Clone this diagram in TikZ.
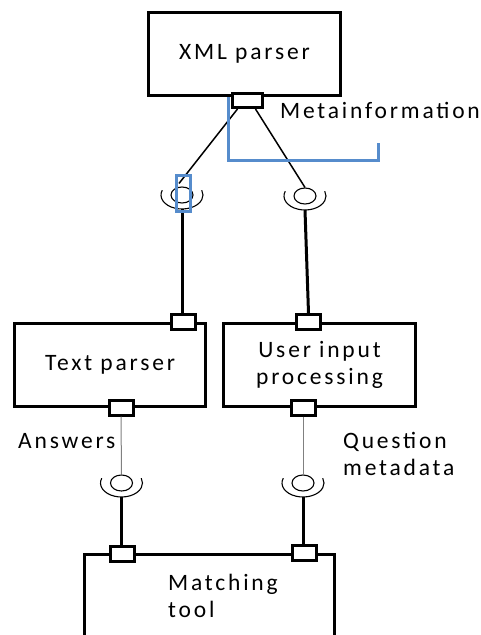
\documentclass[tikz,border=0pt]{standalone}
\usepackage{fontspec}
\setmainfont{Carlito}[LetterSpace=12]
\usetikzlibrary{shapes.geometric,calc}
\definecolor{selblue}{RGB}{86,140,204}
\tikzset{
  comp/.style={draw, line width=3pt, inner sep=0pt, align=center,
    font=\fontsize{23.5}{27}\selectfont},
  portbig/.style={draw, fill=white, line width=3pt, inner sep=0pt,
    minimum width=30pt, minimum height=14pt},
  portbox/.style={draw, fill=white, line width=3pt, inner sep=0pt,
    minimum width=24pt, minimum height=15pt},
  ball/.style={draw, ellipse, line width=1.1pt, inner sep=0pt,
    minimum width=22pt, minimum height=16pt},
  cup/.style={line width=1.1pt},
  lbl/.style={inner sep=0pt, font=\fontsize{23.5}{27}\selectfont},
  req/.style={line width=1.5pt},
  prov/.style={line width=1pt, draw=gray},
  wire/.style={line width=3pt},
  sel/.style={draw=selblue, line width=3pt},
}
\begin{document}
\begin{tikzpicture}[x=1pt,y=-1pt]
\useasboundingbox (0,0) rectangle (480,635);

% components
\node[comp, minimum width=192pt, minimum height=83pt] (xml) at (244.5,54) {XML parser};
\node[comp, minimum width=191pt, minimum height=83pt] (text) at (110,365) {Text parser};
\node[comp, minimum width=192pt, minimum height=83pt] (uip) at (319.5,365) {User input\\processing};

% matching tool: open at the bottom
\coordinate (mtl) at (84.5,554.5);
\coordinate (mtr) at (334.5,554.5);
\draw[wire] (84.5,640) -- (mtl) -- (mtr) -- (334.5,640);
\node[lbl, anchor=base west] (mt1) at (168,590) {Matching};
\node[lbl, anchor=base west] (mt2) at (168,617) {tool};

% balls (provided / required interfaces)
\node[ball] (b1) at (182,195) {};
\node[ball] (b2) at (305,196) {};
\node[ball] (b3) at (121.5,483) {};
\node[ball] (b4) at (303,483) {};
\foreach \b in {b1,b2,b3,b4}{
  \draw[cup] ($(\b.center)+(200:21 and 14)$) arc[start angle=200, end angle=-20, x radius=21, y radius=14];
  \coordinate (\b s) at ($(\b.center)+(0,14)$);
}

% ports
\node[portbig] (xmlp) at (247.5,100.5) {};
\node[portbox] (tpt) at (183.5,322) {};
\node[portbox] (tpb) at (121,407.5) {};
\node[portbox] (upt) at (308.5,322) {};
\node[portbox] (upb) at (303,407.5) {};

% connectors
\draw[req] ($(xmlp.south)+(-10,0)$) -- ($(b1.north)+(-3,-3)$);
\draw[req] ($(xmlp.south)+(8,0)$) -- (b2.north);
\draw[wire] (b1s) -- (b1s |- tpt.north);
\draw[wire] (b2s) -- (upt.north);
\draw[prov] (tpb.south) -- (b3.north);
\draw[prov] (upb.south) -- (b4.north);
\draw[wire] (b3s) -- (b3s |- mtl);
\draw[wire] (b4s) -- (b4s |- mtr);

\node[portbox] (mpl) at (122.5,553.5) {};
\node[portbox] (mpr) at (304,552.5) {};

% labels
\node[lbl, anchor=base west] (meta) at (280,118) {Metainformation};
\node[lbl, anchor=base west] (ans) at (18,448) {Answers};
\node[lbl, anchor=base west] (q1) at (343,448) {Question};
\node[lbl, anchor=base west] (q2) at (343,475) {metadata};

% selection highlight
\coordinate (s1) at (228,97);
\coordinate (s2) at (228,160);
\coordinate (s3) at (378,160);
\coordinate (s4) at (378,143);
\draw[sel] (s1) -- (s2) -- (s3) -- (s4);
\node[sel, minimum width=14pt, minimum height=36pt, inner sep=0pt] (selbox) at (183,193) {};
\end{tikzpicture}
\end{document}
